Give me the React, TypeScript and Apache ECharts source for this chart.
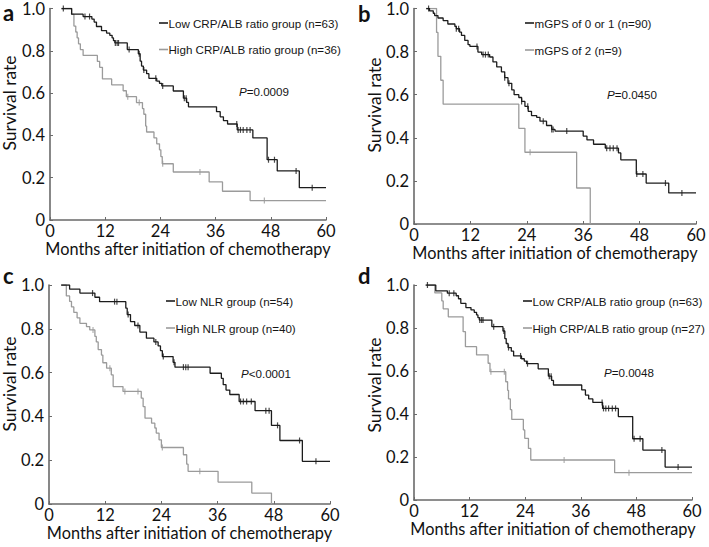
import React, { useEffect, useRef } from 'react';
import * as echarts from 'echarts';

// ---------- data ----------
const X_TICKS = [0, 12, 24, 36, 48, 60];
const Y_TICKS = [0, 0.2, 0.4, 0.6, 0.8, 1.0];
const X_AXIS_TITLE = 'Months after initiation of chemotherapy';
const Y_AXIS_TITLE = 'Survival rate';
const PANEL_LETTERS = ['a', 'b', 'c', 'd'];
const LOW_LABELS = ['Low CRP/ALB ratio group (n=63)', 'mGPS of 0 or 1 (n=90)', 'Low NLR group (n=54)', 'Low CRP/ALB ratio group (n=63)'];
const HIGH_LABELS = ['High CRP/ALB ratio group (n=36)', 'mGPS of 2 (n=9)', 'High NLR group (n=40)', 'High CRP/ALB ratio group (n=27)'];
const P_SIGNS = ['=', '=', '<', '='];
const P_VALUES = ['0.0009', '0.0450', '0.0001', '0.0048'];

// Kaplan-Meier steps: [month, survival after event]
const LOW_CRP_ALB_STEPS = [[2.5,1.0],[4.7,0.973],[7.2,0.962],[9.1,0.95],[9.6,0.936],[10.1,0.915],[11.2,0.895],[12.3,0.884],[13.0,0.873],[13.5,0.861],[13.8,0.848],[14.1,0.837],[16.8,0.806],[19.2,0.786],[19.6,0.751],[19.9,0.728],[20.3,0.709],[21.0,0.692],[21.5,0.67],[23.2,0.657],[23.8,0.646],[24.3,0.634],[26.8,0.61],[29.0,0.576],[29.7,0.556],[30.1,0.535],[36.2,0.512],[37.0,0.488],[37.7,0.47],[38.6,0.454],[40.7,0.426],[44.1,0.388],[47.2,0.285],[49.4,0.232],[54.2,0.153],[60,0.153]];
const LOW_CRP_ALB_CENSORS = [2.9,7.6,8.6,14.2,14.6,14.9,17.2,19.4,20.4,23.0,24.5,29.2,29.6,40.6,40.9,41.4,42.0,42.8,43.5,47.5,48.8,53.5,57.0];

const HIGH_CRP_ALB_36_STEPS = [[2.5,1.0],[4.7,0.972],[5.2,0.917],[5.6,0.889],[5.9,0.861],[6.2,0.833],[6.6,0.806],[7.2,0.778],[10.3,0.75],[10.8,0.722],[11.4,0.667],[13.4,0.639],[15.9,0.611],[16.6,0.583],[18.8,0.555],[20.1,0.527],[20.4,0.5],[20.8,0.444],[21.0,0.416],[22.6,0.388],[23.2,0.36],[23.8,0.332],[24.1,0.30],[24.4,0.266],[26.8,0.227],[34.6,0.18],[37.5,0.136],[43.5,0.092],[60,0.092]];
const HIGH_CRP_ALB_36_CENSORS = [16.9,19.4,24.5,32.6,46.6];

const MGPS_01_STEPS = [[2.6,1.0],[3.3,0.989],[4.1,0.978],[4.4,0.967],[5.1,0.956],[6.2,0.944],[7.2,0.928],[8.7,0.917],[9.0,0.906],[9.7,0.89],[10.1,0.875],[10.8,0.852],[11.5,0.832],[11.9,0.824],[13.6,0.798],[14.4,0.786],[16.1,0.775],[16.8,0.752],[17.6,0.729],[18.6,0.706],[19.3,0.679],[20.0,0.653],[20.8,0.622],[21.3,0.6],[22.3,0.587],[22.9,0.569],[23.6,0.546],[24.3,0.523],[25.0,0.503],[26.1,0.495],[26.8,0.477],[28.2,0.457],[29.3,0.439],[30.0,0.431],[36.0,0.408],[36.8,0.39],[38.2,0.37],[40.7,0.352],[43.5,0.33],[44.0,0.298],[47.3,0.232],[49.4,0.19],[54.2,0.144],[60,0.144]];
const MGPS_01_CENSORS = [3.1,9.0,9.5,13.4,14.7,15.2,15.8,19.3,20.2,22.9,24.2,27.5,29.3,29.6,32.5,41.0,41.7,42.4,43.2,47.4,48.7,53.5,57.0];

const MGPS_2_STEPS = [[2.6,1.0],[4.8,0.889],[5.1,0.778],[5.7,0.667],[6.2,0.556],[22.3,0.444],[23.6,0.333],[34.6,0.167],[37.5,0]];
const MGPS_2_CENSORS = [24.7];

const LOW_NLR_STEPS = [[2.6,1.0],[4.4,0.981],[6.6,0.963],[9.8,0.944],[10.8,0.924],[16.4,0.894],[16.7,0.865],[17.4,0.833],[18.3,0.815],[19.4,0.785],[20.8,0.757],[22.4,0.74],[23.3,0.722],[23.8,0.70],[24.2,0.673],[26.5,0.647],[26.9,0.625],[34.4,0.597],[36.8,0.574],[37.2,0.545],[37.8,0.52],[38.6,0.50],[40.6,0.468],[44.0,0.426],[47.5,0.359],[49.3,0.29],[54.1,0.195],[60,0.195]];
const LOW_NLR_CENSORS = [9.3,14.0,14.5,16.9,19.0,22.8,24.4,26.7,28.7,29.2,29.7,40.9,41.5,42.2,43.2,46.3,47.0,48.8,53.5,57.0];

const HIGH_NLR_STEPS = [[2.6,1.0],[3.7,0.95],[4.4,0.925],[4.8,0.90],[5.3,0.875],[6.0,0.85],[6.6,0.825],[8.0,0.81],[8.7,0.795],[9.8,0.765],[10.1,0.74],[10.5,0.705],[11.2,0.68],[11.5,0.645],[12.3,0.62],[13.3,0.59],[13.7,0.536],[15.8,0.514],[19.7,0.483],[20.1,0.445],[20.5,0.392],[21.9,0.369],[22.6,0.347],[22.9,0.324],[23.5,0.293],[24.0,0.258],[28.7,0.225],[29.4,0.182],[29.7,0.149],[36.1,0.1],[43.3,0.05],[47.5,0]];
const HIGH_NLR_CENSORS = [9.4,13.0,16.2,19.0,24.2,32.2];

const HIGH_CRP_ALB_27_STEPS = [[2.7,1.0],[4.5,0.963],[6.0,0.926],[6.3,0.889],[7.4,0.852],[10.6,0.783],[11.1,0.713],[13.5,0.675],[16.0,0.636],[16.4,0.597],[19.8,0.55],[20.2,0.51],[20.4,0.47],[20.8,0.42],[21.1,0.375],[23.6,0.326],[23.9,0.287],[24.7,0.24],[25.2,0.186],[43.3,0.127],[60,0.127]];
const HIGH_CRP_ALB_27_CENSORS = [16.6,19.5,32.4,46.4];

// ---------- layout / style ----------
const BLACK = '#1c1c1c';
const GRAY = '#9b9b9b';
const AXIS_COLOR = '#6a6a6a';
const FONT = 'Lato';
const SMALL_FONT = 'Liberation Sans';
const SMALL_SIZE = 11.6;

const PANELS = [
  { grid: { left: 50, top: 7, width: 276, height: 213 }, low: LOW_CRP_ALB_STEPS, lowC: LOW_CRP_ALB_CENSORS, high: HIGH_CRP_ALB_36_STEPS, highC: HIGH_CRP_ALB_36_CENSORS,
    legend: [159, 23, 49.5], p: [239, 91.5], yName: [9, 103], letter: [3, 12.5] },
  { grid: { left: 414, top: 6, width: 282, height: 218 }, low: MGPS_01_STEPS, lowC: MGPS_01_CENSORS, high: MGPS_2_STEPS, highC: MGPS_2_CENSORS,
    legend: [525, 23, 50], p: [607, 94], yName: [374, 105], letter: [358, 13] },
  { grid: { left: 49, top: 285, width: 281, height: 219 }, low: LOW_NLR_STEPS, lowC: LOW_NLR_CENSORS, high: HIGH_NLR_STEPS, highC: HIGH_NLR_CENSORS,
    legend: [166, 301, 328], p: [241, 373], yName: [9, 384], letter: [3, 275] },
  { grid: { left: 414, top: 285, width: 278, height: 215 }, low: LOW_CRP_ALB_STEPS, lowC: LOW_CRP_ALB_CENSORS, high: HIGH_CRP_ALB_27_STEPS, highC: HIGH_CRP_ALB_27_CENSORS,
    legend: [523, 301, 328], p: [604, 372], yName: [374, 385], letter: [358, 275] },
];

function survAt(steps: number[][], t: number): number {
  let s = steps[0][1];
  for (const [x, y] of steps) {
    if (x <= t) s = y; else break;
  }
  return s;
}

function smallText(x: number, y: number, text: string, extra: any = {}) {
  return { type: 'text', x, y, style: { text, fontFamily: SMALL_FONT, fontSize: SMALL_SIZE, fill: '#151515', verticalAlign: 'middle', ...extra } };
}

function buildOption() {
  const grids: any[] = [];
  const xAxes: any[] = [];
  const yAxes: any[] = [];
  const series: any[] = [];
  const graphics: any[] = [];

  PANELS.forEach((p, i) => {
    grids.push({ ...p.grid, containLabel: false });
    xAxes.push({
      type: 'value', gridIndex: i, min: X_TICKS[0], max: X_TICKS[X_TICKS.length - 1], interval: 12,
      axisLine: { show: true, lineStyle: { color: AXIS_COLOR, width: 1.6 } },
      axisTick: { show: true, inside: true, length: 3, lineStyle: { color: AXIS_COLOR } },
      splitLine: { show: false },
      axisLabel: { fontFamily: FONT, fontSize: 16.5, color: '#111', margin: 2, lineHeight: 17 },
      name: X_AXIS_TITLE, nameLocation: 'middle', nameGap: 19,
      nameTextStyle: { fontFamily: FONT, fontSize: 16.3, color: '#111', lineHeight: 18 },
    });
    yAxes.push({
      type: 'value', gridIndex: i, min: Y_TICKS[0], max: Y_TICKS[Y_TICKS.length - 1], interval: 0.2,
      axisLine: { show: true, lineStyle: { color: AXIS_COLOR, width: 1.6 } },
      axisTick: { show: true, inside: true, length: 3, lineStyle: { color: AXIS_COLOR } },
      splitLine: { show: false },
      axisLabel: { fontFamily: FONT, fontSize: 16.5, color: '#111', margin: 5,
        formatter: (v: number) => (v === 0 ? '0' : v.toFixed(1)) },
    });
    series.push({ type: 'line', name: HIGH_LABELS[i], xAxisIndex: i, yAxisIndex: i, data: p.high, step: 'end', showSymbol: false, silent: true, z: 2,
      lineStyle: { color: GRAY, width: 1.3 } });
    series.push({ type: 'line', name: LOW_LABELS[i], xAxisIndex: i, yAxisIndex: i, data: p.low, step: 'end', showSymbol: false, silent: true, z: 3,
      lineStyle: { color: BLACK, width: 1.3 } });
    series.push({ type: 'scatter', xAxisIndex: i, yAxisIndex: i, silent: true, z: 2, symbol: 'rect', symbolSize: [1.2, 6],
      data: p.highC.map((t) => [t, survAt(p.high, t)]), itemStyle: { color: GRAY } });
    series.push({ type: 'scatter', xAxisIndex: i, yAxisIndex: i, silent: true, z: 3, symbol: 'rect', symbolSize: [1.2, 6],
      data: p.lowC.map((t) => [t, survAt(p.low, t)]), itemStyle: { color: BLACK } });

    const [lx, ly1, ly2] = p.legend;
    graphics.push({ type: 'line', shape: { x1: lx, y1: ly1, x2: lx + 9, y2: ly1 }, style: { stroke: BLACK, lineWidth: 1.6 } });
    graphics.push(smallText(lx + 9.5, ly1, LOW_LABELS[i]));
    graphics.push({ type: 'line', shape: { x1: lx, y1: ly2, x2: lx + 9, y2: ly2 }, style: { stroke: GRAY, lineWidth: 1.6 } });
    graphics.push(smallText(lx + 9.5, ly2, HIGH_LABELS[i]));

    graphics.push(smallText(p.p[0], p.p[1], `{i|P}${P_SIGNS[i]}${P_VALUES[i]}`, {
      rich: { i: { fontStyle: 'italic', fontFamily: SMALL_FONT, fontSize: SMALL_SIZE, fill: '#151515' } } }));

    graphics.push({ type: 'text', x: p.yName[0], y: p.yName[1], rotation: Math.PI / 2, style: {
      text: Y_AXIS_TITLE, fontFamily: FONT, fontSize: 17.5, fill: '#111', align: 'center', verticalAlign: 'middle' } });

    graphics.push({ type: 'text', x: p.letter[0], y: p.letter[1], style: {
      text: PANEL_LETTERS[i], fontFamily: FONT, fontWeight: 'bold', fontSize: 22, lineHeight: 22, fill: '#111', verticalAlign: 'middle' } });
  });

  return {
    animation: false,
    backgroundColor: '#ffffff',
    grid: grids,
    xAxis: xAxes,
    yAxis: yAxes,
    series,
    graphic: graphics,
  };
}

export default function App() {
  const ref = useRef<HTMLDivElement>(null);
  useEffect(() => {
    const chart = echarts.init(ref.current as HTMLDivElement, null, { renderer: 'svg' });
    chart.setOption(buildOption() as any);
    return () => chart.dispose();
  }, []);
  return <div ref={ref} style={{ position: 'absolute', left: 0, top: 0, width: 709, height: 547, background: '#fff' }} />;
}
